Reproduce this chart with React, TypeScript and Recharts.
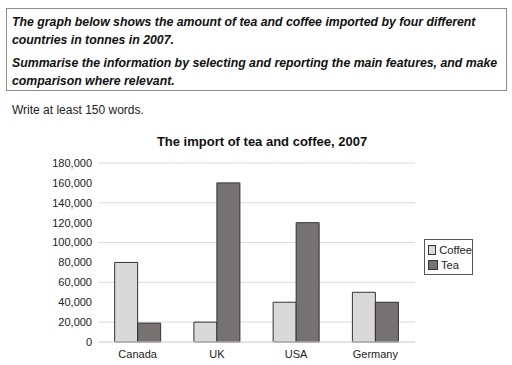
import { BarChart, Bar, XAxis, YAxis, CartesianGrid, Legend } from 'recharts';

const countries = ['Canada', 'UK', 'USA', 'Germany'];
const coffee = [80000, 20000, 40000, 50000];
const tea = [19000, 160000, 120000, 40000];
const yTicks = [0, 20000, 40000, 60000, 80000, 100000, 120000, 140000, 160000, 180000];

const COFFEE_FILL = '#d9d9d9';
const TEA_FILL = '#777272';
const FONT = '"Liberation Sans", Arial, sans-serif';

const chartData = countries.map((name, i) => ({ name, Coffee: coffee[i], Tea: tea[i] }));

function LegendBox({ payload }: any) {
  return (
    <div style={{ width: 44, border: '1px solid #555', padding: '2px 0 2px 3px', background: '#fff', fontFamily: FONT, fontSize: 11.2, color: '#222' }}>
      {(payload || []).map((p: any) => (
        <div key={p.value} style={{ display: 'flex', alignItems: 'center', height: 15 }}>
          <span style={{ width: 8, height: 8, background: p.color, border: '1px solid #333', marginRight: 3 }} />
          {p.value}
        </div>
      ))}
    </div>
  );
}

export default function App() {
  return (
    <div style={{ position: 'absolute', left: 0, top: 0, width: 512, height: 365, background: '#fff', fontFamily: FONT, color: '#111' }}>
      <div style={{ position: 'absolute', left: 6, top: 8, width: 490, height: 73, border: '1px solid #8c8c8c', padding: '4px 4px 4px 5px', fontSize: 12.3, fontWeight: 'bold', fontStyle: 'italic', lineHeight: '18px', whiteSpace: 'nowrap' }}>
        <div>The graph below shows the amount of tea and coffee imported by four different</div>
        <div>countries in tonnes in 2007.</div>
        <div style={{ marginTop: 5 }}>Summarise the information by selecting and reporting the main features, and make</div>
        <div>comparison where relevant.</div>
      </div>
      <div style={{ position: 'absolute', left: 12, top: 103, fontSize: 12, color: '#222' }}>Write at least 150 words.</div>
      <div style={{ position: 'absolute', left: 0, width: 524, top: 134, textAlign: 'center', fontSize: 13, fontWeight: 'bold' }}>
        The import of tea and coffee, 2007
      </div>
      <div style={{ position: 'absolute', left: 0, top: 125 }}>
        <BarChart width={512} height={240} data={chartData} margin={{ top: 38, right: 97, bottom: 0, left: 0 }} barCategoryGap="21%" barGap={0}>
          <CartesianGrid vertical={false} stroke="#dcdcdc" />
          <XAxis dataKey="name" height={23} axisLine={{ stroke: '#dcdcdc' }} tickLine={false} tick={{ fill: '#222', fontSize: 11, fontFamily: FONT }} tickSize={4} tickMargin={4} />
          <YAxis width={98} domain={[0, 180000]} ticks={yTicks} axisLine={false} tickLine={false} tickSize={4} tickMargin={2}
            tickFormatter={(v: number) => v.toLocaleString('en-US')} tick={{ fill: '#222', fontSize: 11, fontFamily: FONT }} />
          <Legend layout="horizontal" align="center" verticalAlign="middle" wrapperStyle={{ top: 114, left: 424, right: 'auto', width: 50 }} content={<LegendBox />} />
          <Bar dataKey="Coffee" fill={COFFEE_FILL} stroke="#333" strokeWidth={1} isAnimationActive={false} />
          <Bar dataKey="Tea" fill={TEA_FILL} stroke="#333" strokeWidth={1} isAnimationActive={false} />
        </BarChart>
      </div>
    </div>
  );
}
